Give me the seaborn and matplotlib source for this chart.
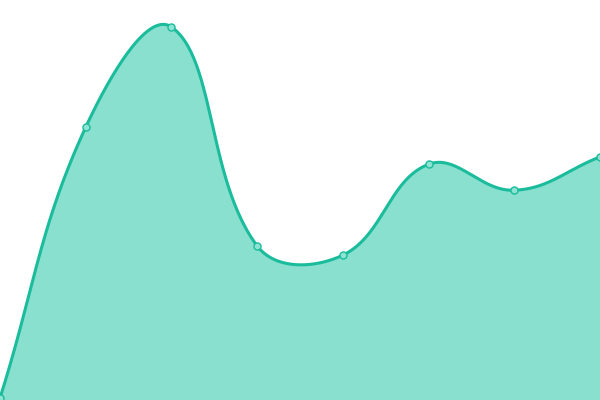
import numpy as np
import matplotlib
matplotlib.use("Agg")
import matplotlib.pyplot as plt
import seaborn as sns
import pandas as pd

# Data
categories = ["A", "B", "C", "D", "E", "F", "G", "H"]
values = [0, 73, 100, 41, 38.5, 63, 56, 65]

LINE = "#1abc9c"
FILL = "#89e0cf"

sns.set_style("white")
fig = plt.figure(figsize=(6, 4), dpi=100)
ax = fig.add_axes([0, 0, 1, 1])

x = np.arange(len(values), dtype=float)
y = np.array(values, dtype=float)
ax.set_xlim(0, len(values) - 1)
ax.set_ylim(-2 / 3.71, 398 / 3.71)
fig.canvas.draw()

# Chart.js-style spline (tension 0.4) computed in display space
pts = ax.transData.transform(np.column_stack([x, y]))
t = 0.4
n = len(pts)
cp_prev = np.zeros_like(pts)
cp_next = np.zeros_like(pts)
for i in range(n):
    prev = pts[i - 1] if i > 0 else pts[i]
    cur = pts[i]
    nxt = pts[i + 1] if i < n - 1 else pts[i]
    d01 = np.hypot(*(cur - prev))
    d12 = np.hypot(*(nxt - cur))
    tot = d01 + d12
    s01 = d01 / tot if tot else 0
    s12 = d12 / tot if tot else 0
    fa = t * s01
    fb = t * s12
    cp_prev[i] = cur - fa * (nxt - prev)
    cp_next[i] = cur + fb * (nxt - prev)

curve = []
ts = np.linspace(0, 1, 60)
for i in range(n - 1):
    p0, p1, p2, p3 = pts[i], cp_next[i], cp_prev[i + 1], pts[i + 1]
    seg = ((1 - ts) ** 3)[:, None] * p0 + (3 * (1 - ts) ** 2 * ts)[:, None] * p1 \
        + (3 * (1 - ts) * ts ** 2)[:, None] * p2 + (ts ** 3)[:, None] * p3
    curve.append(seg if i == 0 else seg[1:])
curve = np.vstack(curve)
curve_data = ax.transData.inverted().transform(curve)

ybottom = ax.get_ylim()[0]
ax.fill_between(curve_data[:, 0], curve_data[:, 1], ybottom, color=FILL, lw=0, zorder=1)
ax.plot(curve_data[:, 0], curve_data[:, 1], color=LINE, lw=2.2, zorder=2,
        solid_capstyle="round")

df = pd.DataFrame({"x": x, "value": y, "category": categories})
sns.scatterplot(data=df, x="x", y="value", ax=ax, s=26, color="#8fe3d3",
                edgecolor=LINE, linewidth=1, zorder=3, clip_on=True)

ax.set_xlim(0, len(values) - 1)
ax.set_ylim(-2 / 3.71, 398 / 3.71)
ax.axis("off")
fig.savefig("out.png", dpi=100)
